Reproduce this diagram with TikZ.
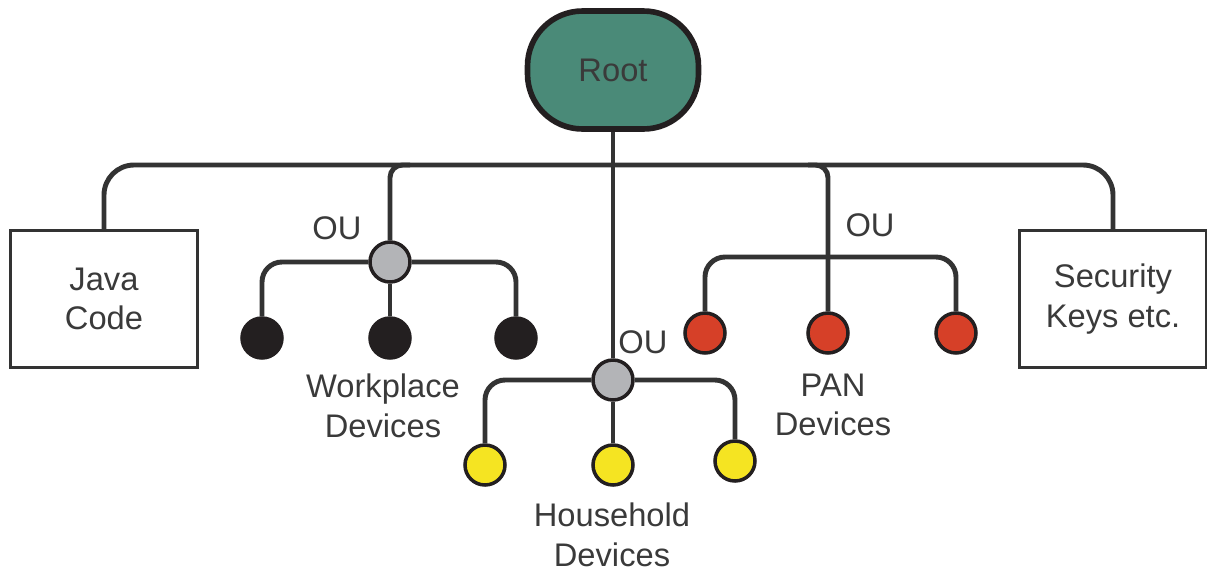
\documentclass[tikz,border=0pt]{standalone}
\usepackage{fontspec}
\setmainfont{Liberation Sans}
\usepackage{tikz}
\definecolor{rootgreen}{HTML}{4A8A78}
\definecolor{ougray}{HTML}{B3B4B7}
\definecolor{devblack}{HTML}{231F20}
\definecolor{devred}{HTML}{D64028}
\definecolor{devyellow}{HTML}{F5E422}
\definecolor{wiregray}{HTML}{333333}
\definecolor{textgray}{HTML}{3A3A3A}

\begin{document}
\begin{tikzpicture}[x=0.02cm,y=-0.02cm,
  every node/.style={font=\fontsize{18.6}{22.6}\selectfont,text=textgray},
  wire/.style={draw=wiregray,line width=2.8pt},
  rootbox/.style={draw=devblack,line width=3.2pt,fill=rootgreen,rounded corners=1.1cm,minimum width=3.42cm,minimum height=2.36cm},
  leafbox/.style={draw=wiregray,line width=2pt,align=center,minimum width=3.74cm,minimum height=2.74cm},
  dev/.style={circle,draw=devblack,line width=2pt,minimum size=0.8cm,inner sep=0pt},
  oubox/.style={dev,fill=ougray},
  txt/.style={align=center,inner sep=0pt}]
\useasboundingbox (0,0) rectangle (1207,576);
% nodes
\node (root) at (613,70) [rootbox] {Root};
\node (java) at (104,299) [leafbox] {Java\\Code};
\node (keys) at (1113,299) [leafbox] {Security\\Keys etc.};
\coordinate (bus) at (613,165);
% workplace
\node (wou) at (390,262) [oubox] {};
\node (w1) at (262,338) [dev,fill=devblack] {};
\node (w2) at (390,338) [dev,fill=devblack] {};
\node (w3) at (516,338) [dev,fill=devblack] {};
\node (wlab) at (337,228) [txt] {OU};
\node (wtxt) at (383,406) [txt] {Workplace\\Devices};
% household
\node (hou) at (613,380) [oubox] {};
\node (h1) at (485,465) [dev,fill=devyellow] {};
\node (h2) at (613,465) [dev,fill=devyellow] {};
\node (h3) at (735,461) [dev,fill=devyellow] {};
\node (hlab) at (643,342) [txt] {OU};
\node (htxt) at (612,535) [txt] {Household\\Devices};
% PAN
\coordinate (pj) at (828,257);
\node (p1) at (705,333) [dev,fill=devred] {};
\node (p2) at (828,333) [dev,fill=devred] {};
\node (p3) at (956,333) [dev,fill=devred] {};
\node (plab) at (870,225) [txt] {OU};
\node (ptxt) at (833,405) [txt] {PAN\\Devices};
% connectors
\draw[wire,rounded corners=0.6cm] (java.north) -- (java.north |- bus) -- (keys.north |- bus) -- (keys.north);
\draw[wire] (root.south) -- (hou.north);
\draw[wire,rounded corners=0.25cm] ([xshift=0.4cm]wou.north |- bus) -| (wou.north);
\draw[wire,rounded corners=0.4cm] (wou.west) -| (w1.north);
\draw[wire,rounded corners=0.4cm] (wou.east) -| (w3.north);
\draw[wire] (wou.south) -- (w2.north);
\draw[wire,rounded corners=0.4cm] (hou.west) -| (h1.north);
\draw[wire,rounded corners=0.4cm] (hou.east) -| (h3.north);
\draw[wire] (hou.south) -- (h2.north);
\draw[wire,rounded corners=0.25cm] ([xshift=-0.4cm]p2.north |- bus) -| (p2.north);
\draw[wire,rounded corners=0.4cm] (p1.north) |- (pj) -| (p3.north);
\end{tikzpicture}
\end{document}
